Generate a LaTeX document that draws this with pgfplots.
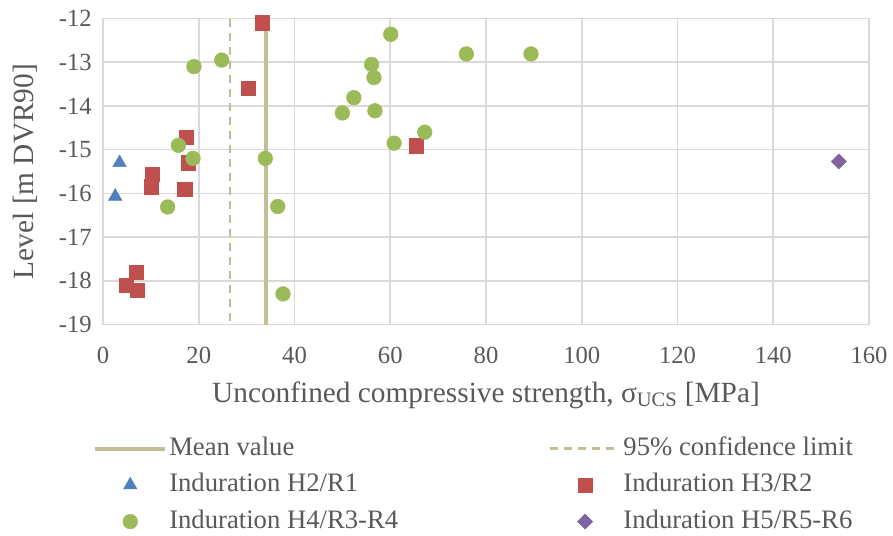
\documentclass[border=0pt]{standalone}
\usepackage{fontspec}
\setmainfont{Liberation Serif}
\usepackage{pgfplots}
\pgfplotsset{compat=1.18}
\definecolor{txt}{HTML}{595959}
\definecolor{gridc}{HTML}{D9D9D9}
\definecolor{bluec}{HTML}{4F81BD}
\definecolor{redc}{HTML}{C0504D}
\definecolor{greenc}{HTML}{9BBB59}
\definecolor{purplec}{HTML}{8064A2}
\definecolor{tanc}{HTML}{C4BD97}
\pgfplotsset{
  lineleg/.style={legend image code/.code={\draw[##1] (0pt,0pt) -- (52.5pt,0pt);}},
  markleg/.style={legend image code/.code={\draw[mark repeat=2,mark phase=2,##1] plot coordinates {(0pt,0pt)(26.25pt,0pt)(52.5pt,0pt)};}},
}
\begin{document}
\begin{tikzpicture}
\begin{axis}[
  name=ax, at={(0,0)}, anchor=south west,
  scale only axis, width=574.5pt, height=229.5pt,
  xmin=0, xmax=160, ymin=-19, ymax=-12,
  xtick={0,20,...,160}, ytick={-19,-18,...,-12},
  grid=major,
  major grid style={color=gridc, line width=1.2pt},
  axis line style={color=gridc, line width=1.2pt},
  major tick length=0pt,
  /pgf/number format/assume math mode=true,
  tick label style={font=\fontsize{18.5}{22}\selectfont, color=txt},
  xticklabel style={anchor=base, inner sep=0pt, yshift=-29.1pt},
  yticklabel style={anchor=east, inner sep=0pt, xshift=-8.25pt},
  label style={font=\fontsize{22}{26}\selectfont, color=txt},
  xlabel={Unconfined compressive strength, σ\textsubscript{UCS} [MPa]},
  ylabel={Level [m DVR90]},
  xlabel style={at={(axis description cs:0.5,0)}, anchor=base, inner sep=0pt, yshift=-58.1pt},
  ylabel style={at={(axis description cs:0,0.5)}, anchor=base, inner sep=0pt, yshift=51.75pt},
  legend columns=2,
  legend cell align=left,
  legend style={draw=none, fill=none, inner sep=0pt,
    at={(axis description cs:0,0)}, anchor=north west,
    xshift=-7.5pt, yshift=-83.8pt,
    font=\fontsize{20}{24}\selectfont, text=txt,
    nodes={inner sep=0pt, text height=14pt, text depth=4pt},
    row sep=9.4pt,
    /tikz/every odd column/.append style={column sep=1.5pt},
    /tikz/every even column/.append style={column sep=113pt}},
  clip=false,
]
\addplot[tanc, line width=3pt, lineleg]
  coordinates {(34,-12) (34,-19)};
\addlegendentry{Mean value}
\addplot[tanc, line width=2pt, dash pattern=on 6pt off 4.5pt, lineleg]
  coordinates {(26.5,-12) (26.5,-19)};
\addlegendentry{95\% confidence limit}
\addplot[only marks, mark=triangle*, mark size=5.8pt, color=bluec, mark options={fill=bluec, draw=bluec}, markleg]
  coordinates {(3.46,-15.3) (2.56,-16.07)};
\addlegendentry{Induration H2/R1}
\addplot[only marks, mark=square*, mark size=5.4pt, color=redc, mark options={fill=redc, draw=redc}, markleg]
  coordinates {(33.3,-12.1) (30.4,-13.6) (17.4,-14.71) (17.8,-15.3) (10.27,-15.56) (10.1,-15.85) (17.1,-15.91) (6.9,-17.8) (4.8,-18.1) (7.15,-18.22) (65.4,-14.91)};
\addlegendentry{Induration H3/R2}
\addplot[only marks, mark=*, mark size=5.5pt, color=greenc, mark options={fill=greenc, draw=greenc}, markleg]
  coordinates {(19.0,-13.1) (24.8,-12.95) (15.75,-14.9) (18.8,-15.2) (33.9,-15.2) (13.5,-16.31) (36.5,-16.3) (37.6,-18.3) (60.1,-12.36) (75.9,-12.81) (89.4,-12.81) (56.1,-13.05) (56.6,-13.35) (52.4,-13.81) (50.0,-14.16) (56.8,-14.11) (67.2,-14.6) (60.8,-14.85)};
\addlegendentry{Induration H4/R3-R4}
\addplot[only marks, mark=square*, mark size=4pt, color=purplec, mark options={fill=purplec, draw=purplec, rotate=45}, markleg]
  coordinates {(153.7,-15.27)};
\addlegendentry{Induration H5/R5-R6}
\end{axis}
\pgfresetboundingbox
\useasboundingbox (-77.25pt,-157.9pt) rectangle (592.5pt,243.4pt);
\end{tikzpicture}
\end{document}
